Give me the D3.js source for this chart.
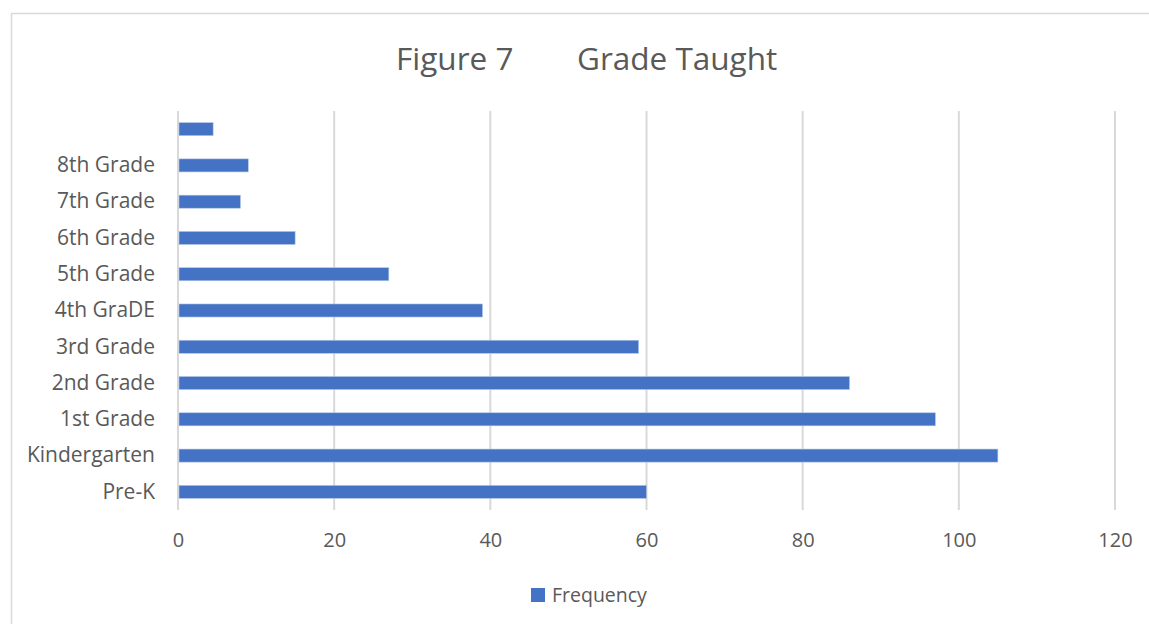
<!DOCTYPE html>
<html>
<head>
<meta charset="utf-8">
<script src="https://cdn.jsdelivr.net/npm/d3@7"></script>
<style>
  html, body { margin: 0; padding: 0; background: #fff; }
  svg { display: block; font-family: "Open Sans", sans-serif; }
</style>
</head>
<body>
<svg id="chart" width="1149" height="624"></svg>
<script>
// Grade levels, bottom to top; the topmost category has no label
const categories = ["Pre-K", "Kindergarten", "1st Grade", "2nd Grade", "3rd Grade", "4th GraDE",
                    "5th Grade", "6th Grade", "7th Grade", "8th Grade", ""];
const frequency = [60, 105, 97, 86, 59, 39, 27, 15, 8, 9, 4.5];
const xTicks = [0, 20, 40, 60, 80, 100, 120];
const seriesName = "Frequency";

const W = 1149, H = 624;
const plot = { left: 178, right: 1115, top: 111, bottom: 510 };
const barColor = "#4472C4";
const textColor = "#595959";
const gridColor = "#d9d9d9";

const svg = d3.select("#chart");

// chart frame
svg.append("rect")
  .attr("x", 11.5).attr("y", 13.5)
  .attr("width", W).attr("height", H)
  .attr("fill", "#fff")
  .attr("stroke", gridColor).attr("stroke-width", 1.5);

// title
const title = svg.append("text")
  .attr("y", 70)
  .attr("fill", textColor)
  .attr("font-size", 31.5);
title.append("tspan").attr("x", 396).text("Figure 7");
title.append("tspan").attr("x", 577).text("Grade Taught");

const x = d3.scaleLinear().domain([0, 120]).range([plot.left, plot.right]);
const y = d3.scaleBand()
  .domain(categories)
  .range([plot.bottom, plot.top])
  .paddingInner(0.64)
  .paddingOuter(0.32);

// vertical gridlines
svg.append("g")
  .selectAll("line")
  .data(xTicks)
  .join("line")
  .attr("x1", d => x(d)).attr("x2", d => x(d))
  .attr("y1", plot.top).attr("y2", plot.bottom)
  .attr("stroke", gridColor).attr("stroke-width", 2);

// x axis labels
const xAxis = svg.append("g")
  .attr("transform", `translate(0,${plot.bottom})`)
  .call(d3.axisBottom(x).tickValues(xTicks).tickSize(0).tickPadding(23));
xAxis.select(".domain").remove();
xAxis.selectAll("text")
  .attr("fill", textColor)
  .attr("font-size", 20)
  .attr("font-family", "'Open Sans', sans-serif");

// category labels
const yAxis = svg.append("g")
  .attr("transform", `translate(${plot.left},0)`)
  .call(d3.axisLeft(y).tickSize(0).tickPadding(23));
yAxis.select(".domain").remove();
yAxis.selectAll("text")
  .attr("fill", textColor)
  .attr("font-size", 21)
  .attr("font-family", "'Open Sans', sans-serif");

// bars
svg.append("g")
  .selectAll("rect")
  .data(categories.map((c, i) => ({ c, v: frequency[i] })))
  .join("rect")
  .attr("x", x(0) + 1)
  .attr("y", d => y(d.c))
  .attr("width", d => x(d.v) - x(0) - 1)
  .attr("height", y.bandwidth())
  .attr("fill", barColor)
  .attr("stroke", "#b4c7e7")
  .attr("stroke-width", 0.6);

// legend
const legend = svg.append("g");
legend.append("rect")
  .attr("x", 531).attr("y", 588)
  .attr("width", 14).attr("height", 14)
  .attr("fill", barColor);
legend.append("text")
  .attr("x", 552).attr("y", 601.5)
  .attr("fill", textColor)
  .attr("font-size", 19.5)
  .text(seriesName);
</script>
</body>
</html>
